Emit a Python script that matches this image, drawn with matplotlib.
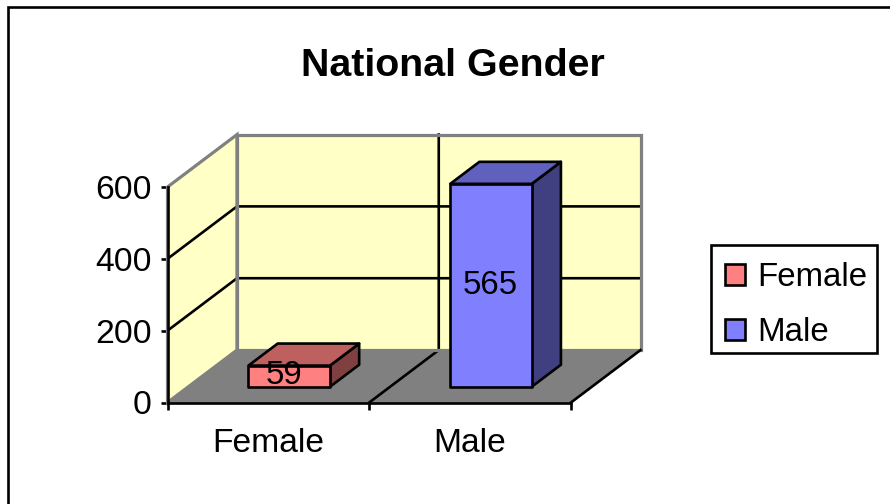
import matplotlib
matplotlib.use('Agg')
import matplotlib.pyplot as plt
from matplotlib.patches import Patch, Polygon, Rectangle

categories = ['Female', 'Male']
values = [59, 565]
y_ticks = [0, 200, 400, 600]
face_colors = ['#FF8080', '#8080FF']
top_colors = ['#BF6060', '#6060BF']
side_colors = ['#804040', '#404080']

W, H = 890, 504
# depth of the fake 3d box, in data units
DX = 69.5 / 201.75
DY = 146
BAR_WIDTH = 81.5 / 201.75
BAR_FRONT = 0.30
BAR_BACK = 0.72
LW = 1.9

plt.rcParams['font.family'] = ['Liberation Sans', 'DejaVu Sans']

fig = plt.figure(figsize=(W / 100, H / 100), dpi=100)
fig.patch.set_facecolor('white')

# outer frame, right and bottom run off the picture
fig.add_artist(Rectangle((8 / W, -0.1), 1.1, 0.1 + (1 - 7 / H), transform=fig.transFigure,
                         fill=False, ec='black', lw=LW))

left, right, top, bottom = 167.5, 571, 187, 402.5
ax = fig.add_axes([left / W, 1 - bottom / H, (right - left) / W, (bottom - top) / H])
ax.set_xlim(0, len(categories))
ax.set_ylim(0, 600)
ax.patch.set_visible(False)


def shear(x, v, d):
    return (x + d * DX, v + d * DY)


def poly(points, **kw):
    ax.add_patch(Polygon(points, closed=True, clip_on=False, **kw))


x_max = len(categories)
y_max = y_ticks[-1]
wall = '#FFFFC6'
gray = '#808080'

# walls and floor
side_wall = [shear(0, 0, 0), shear(0, 0, 1), shear(0, y_max, 1), shear(0, y_max, 0)]
back_wall = [shear(0, 0, 1), shear(x_max, 0, 1), shear(x_max, y_max, 1), shear(0, y_max, 1)]
poly(side_wall, fc=wall, ec='none', zorder=1)
poly(back_wall, fc=wall, ec='none', zorder=1)
poly([shear(0, 0, 0), shear(x_max, 0, 0), shear(x_max, 0, 1), shear(0, 0, 1)],
     fc=gray, ec=gray, lw=1, zorder=2)

# gridlines
for t in y_ticks[1:-1]:
    xs, ys = zip(shear(0, t, 0), shear(0, t, 1), shear(x_max, t, 1))
    ax.plot(xs, ys, color='black', lw=LW, clip_on=False, zorder=3)
xs, ys = zip(shear(1, 0, 0), shear(1, 0, 1), shear(1, y_max, 1))
ax.plot(xs, ys, color='black', lw=LW, clip_on=False, zorder=3)

# wall edges go over the gridlines
poly(side_wall, fill=False, ec=gray, lw=LW + 0.4, zorder=3.5)
poly(back_wall, fill=False, ec=gray, lw=LW + 0.4, zorder=3.5)
xs, ys = zip(shear(x_max, 0, 0), shear(x_max, 0, 1))
ax.plot(xs, ys, color='black', lw=LW, clip_on=False, zorder=3.6)

# bars
label_shift = [-5.5, -0.5]
label_lift = [0.5, 0]
for i, v in enumerate(values):
    x0 = i + 0.5 - BAR_WIDTH / 2
    x1 = i + 0.5 + BAR_WIDTH / 2
    edge = dict(ec='black', lw=LW, joinstyle='round', zorder=4 + i)
    poly([shear(x1, 0, BAR_FRONT), shear(x1, 0, BAR_BACK), shear(x1, v, BAR_BACK), shear(x1, v, BAR_FRONT)],
         fc=side_colors[i], **edge)
    poly([shear(x0, v, BAR_FRONT), shear(x1, v, BAR_FRONT), shear(x1, v, BAR_BACK), shear(x0, v, BAR_BACK)],
         fc=top_colors[i], **edge)
    poly([shear(x0, 0, BAR_FRONT), shear(x1, 0, BAR_FRONT), shear(x1, v, BAR_FRONT), shear(x0, v, BAR_FRONT)],
         fc=face_colors[i], **edge)
    ax.annotate(str(v), shear(i + 0.5, v / 2, BAR_FRONT),
                xytext=(label_shift[i] * 0.72, label_lift[i] * 0.72), textcoords='offset points',
                ha='center', va='center', fontsize=23.8, color='black', zorder=10, annotation_clip=False)

# axes
for s in ['top', 'right']:
    ax.spines[s].set_visible(False)
for s in ['left', 'bottom']:
    ax.spines[s].set_linewidth(LW)
    ax.spines[s].set_zorder(8)
ax.set_yticks(y_ticks)
ax.set_xticks(range(x_max + 1))
ax.set_xticklabels([])
ax.set_xticks([i + 0.5 for i in range(x_max)], minor=True)
ax.set_xticklabels(categories, minor=True)
ax.tick_params(axis='both', which='major', length=5, width=LW, labelsize=24.2)
ax.tick_params(axis='y', which='major', pad=6.6)
ax.tick_params(axis='x', which='minor', length=0, labelsize=24.2, pad=18)

fig.text(452.5 / W, 1 - 66 / H, 'National Gender', ha='center', va='center',
         fontsize=28.4, fontweight='bold')

# legend box is drawn by hand, its padding is not even left and right
fig.add_artist(Rectangle((711.3 / W, 1 - 353.3 / H), 165.4 / W, 108.3 / H, transform=fig.transFigure,
                         fc='white', ec='black', lw=LW))
handles = [Patch(fc=face_colors[i], ec='black', lw=LW, label=categories[i]) for i in range(2)]
leg = fig.legend(handles=handles, loc='upper left', bbox_to_anchor=(711.5 / W, 1 - 248 / H),
                 fontsize=23.8, frameon=False,
                 handlelength=0.6, handleheight=0.6, handletextpad=0.36, labelspacing=0.74,
                 borderpad=0.42, borderaxespad=0)

fig.savefig('out.png', dpi=100)
